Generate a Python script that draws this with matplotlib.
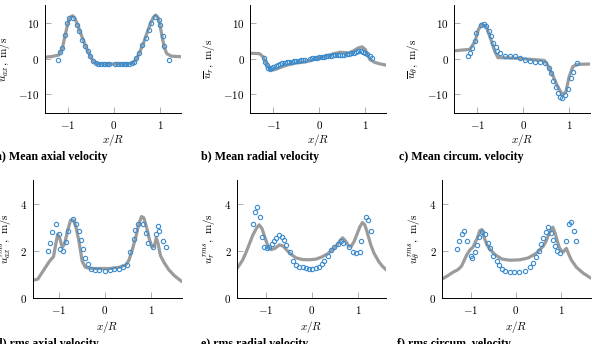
import matplotlib
matplotlib.use("Agg")
import matplotlib.pyplot as plt

plt.rcParams['mathtext.fontset'] = 'cm'
plt.rcParams['font.family'] = 'Liberation Serif'

# a) mean axial velocity
a_line_x = [-1.5, -1.35, -1.2, -1.13, -1.07, -1.0, -0.95, -0.9, -0.85, -0.8, -0.72, -0.65, -0.58, -0.5,
            -0.43, -0.35, -0.2, 0.0, 0.2, 0.35, 0.43, 0.5, 0.58, 0.65, 0.72, 0.8, 0.86, 0.91, 0.96, 1.0,
            1.05, 1.1, 1.15, 1.25, 1.5]
a_line_y = [0.4, 0.6, 1.0, 2.5, 6.0, 10.0, 11.6, 12.0, 11.3, 9.8, 7.0, 4.6, 2.4, 0.3,
            -1.0, -1.4, -1.5, -1.5, -1.5, -1.4, -1.0, 0.2, 2.4, 4.6, 7.2, 10.0, 11.6, 12.2, 11.5, 9.6,
            6.0, 3.0, 1.4, 0.7, 0.5]
a_exp_x = [-1.22, -1.17, -1.14, -1.06, -1.03, -0.97, -0.88, -0.81, -0.77, -0.7, -0.62, -0.57, -0.52,
           -0.46, -0.4, -0.34, -0.28, -0.22, -0.16, -0.1, 0.03, 0.09, 0.15, 0.21, 0.27, 0.33, 0.39,
           0.43, 0.49, 0.54, 0.61, 0.69, 0.76, 0.81, 0.9, 0.98, 1.01, 1.07, 1.1, 1.2]
a_exp_y = [-0.4, 1.9, 2.9, 6.6, 9.9, 11.3, 11.3, 9.4, 7.6, 5.2, 3.4, 2.0, 0.6,
           -0.6, -1.3, -1.5, -1.5, -1.5, -1.5, -1.5, -1.5, -1.5, -1.5, -1.5, -1.5, -1.5, -1.3,
           -1.0, 0.2, 1.5, 3.8, 5.7, 8.0, 9.9, 11.6, 10.8, 9.4, 6.2, 3.4, -0.4]

# b) mean radial velocity
b_line_x = [-1.5, -1.3, -1.22, -1.15, -1.08, -1.02, -0.95, -0.85, -0.7, -0.5, -0.3, -0.1, 0.1, 0.3,
            0.45, 0.55, 0.65, 0.75, 0.85, 0.93, 1.0, 1.05, 1.1, 1.2, 1.3, 1.45]
b_line_y = [1.5, 1.4, 0.5, -1.5, -2.8, -3.2, -3.0, -2.5, -1.8, -1.2, -0.9, -0.2, 0.6, 1.3,
            1.8, 1.7, 1.6, 2.2, 3.0, 3.3, 2.6, 1.2, -0.2, -1.0, -1.4, -1.8]
b_exp_x = [-1.2, -1.17, -1.14, -1.11, -1.08, -1.05, -1.0, -0.95, -0.9, -0.85, -0.8, -0.75, -0.7,
           -0.65, -0.6, -0.55, -0.5, -0.45, -0.4, -0.35, -0.3, -0.2, -0.15, -0.1, -0.05, 0.0, 0.05,
           0.1, 0.15, 0.2, 0.25, 0.3, 0.35, 0.4, 0.45, 0.5, 0.55, 0.6, 0.65, 0.7, 0.75, 0.8, 0.85,
           0.9, 0.95, 1.0, 1.05, 1.1, 1.15]
b_exp_y = [0.1, -0.8, -1.8, -2.6, -3.0, -2.6, -2.2, -2.0, -1.8, -1.5, -1.3, -1.2, -1.0,
           -0.9, -0.8, -0.7, -0.6, -0.6, -0.5, -0.5, -0.4, 0.0, 0.2, 0.3, 0.3, 0.4, 0.5,
           0.5, 0.6, 0.7, 0.8, 0.9, 0.9, 1.0, 1.0, 1.0, 1.1, 1.2, 1.4, 1.5, 1.7, 1.9, 2.0,
           2.0, 1.9, 1.7, 1.2, 0.8, 0.1]

# c) mean circumferential velocity
c_line_x = [-1.5, -1.16, -1.05, -0.98, -0.9, -0.8, -0.7, -0.62, -0.55, -0.12, 0.46, 0.53, 0.64,
            0.75, 0.86, 0.93, 1.0, 1.08, 1.19, 1.46]
c_line_y = [2.2, 2.6, 4.8, 8.0, 9.7, 8.8, 5.2, 2.0, 0.3, 0.1, -0.5, -1.8, -4.6,
            -7.8, -10.2, -9.2, -5.0, -2.2, -1.6, -1.5]
c_exp_x = [-1.21, -1.16, -1.11, -1.05, -1.02, -0.92, -0.86, -0.81, -0.75, -0.7, -0.65, -0.6, -0.56,
           -0.51, -0.4, -0.29, -0.18, -0.07, 0.03, 0.14, 0.25, 0.36, 0.47, 0.56, 0.6, 0.65, 0.71,
           0.76, 0.81, 0.85, 0.9, 0.98, 1.03, 1.09, 1.18]
c_exp_y = [0.8, 1.7, 2.9, 4.8, 7.3, 9.4, 9.7, 9.0, 7.8, 6.4, 4.5, 3.2, 2.2,
           1.5, 0.8, 0.6, 0.6, 0.1, -0.4, -0.6, -0.8, -1.0, -1.3, -2.7, -4.1, -6.2, -8.0,
           -9.5, -10.8, -11.1, -10.2, -8.6, -5.5, -3.6, -1.1]

# d) rms axial velocity
d_line_x = [-1.56, -1.45, -1.35, -1.2, -1.11, -1.06, -1.02, -0.97, -0.92, -0.87, -0.8, -0.74, -0.68,
            -0.63, -0.56, -0.49, -0.42, -0.3, -0.12, 0.1, 0.3, 0.45, 0.52, 0.6, 0.67, 0.73, 0.79,
            0.84, 0.9, 0.96, 1.02, 1.07, 1.11, 1.15, 1.2, 1.28, 1.38, 1.5, 1.66]
d_line_y = [0.75, 0.8, 1.1, 1.55, 1.75, 2.3, 2.7, 2.5, 2.15, 2.3, 2.9, 3.3, 3.3,
            3.05, 2.4, 1.55, 1.3, 1.25, 1.25, 1.25, 1.3, 1.4, 1.6, 2.1, 2.6, 3.1, 3.45,
            3.4, 3.0, 2.5, 2.15, 2.2, 2.55, 2.3, 1.8, 1.5, 1.2, 0.95, 0.7]
d_exp_x = [-1.23, -1.19, -1.14, -1.06, -1.0, -0.96, -0.91, -0.85, -0.79, -0.69, -0.62, -0.57, -0.52,
           -0.47, -0.42, -0.37, -0.3, -0.22, -0.12, 0.0, 0.1, 0.2, 0.3, 0.4, 0.48, 0.55, 0.62,
           0.66, 0.72, 0.82, 0.88, 0.93, 1.04, 1.1, 1.14, 1.17, 1.25, 1.31]
d_exp_y = [2.0, 2.35, 2.8, 3.15, 2.7, 2.07, 2.0, 2.38, 2.84, 3.35, 3.15, 2.84, 2.47,
           2.07, 1.7, 1.42, 1.25, 1.2, 1.2, 1.15, 1.2, 1.22, 1.25, 1.3, 1.4, 1.95, 2.5,
           2.9, 3.15, 3.15, 2.75, 2.35, 2.15, 2.7, 3.05, 2.85, 2.4, 2.15]

# e) rms radial velocity
e_line_x = [-1.62, -1.5, -1.42, -1.35, -1.28, -1.2, -1.14, -1.08, -1.02, -0.95, -0.88, -0.8, -0.7,
            -0.62, -0.55, -0.45, -0.34, -0.2, -0.05, 0.1, 0.23, 0.35, 0.45, 0.55, 0.62, 0.67, 0.74,
            0.8, 0.86, 0.92, 0.98, 1.04, 1.1, 1.15, 1.2, 1.28, 1.35, 1.45, 1.53, 1.61]
e_line_y = [1.25, 1.6, 1.95, 2.3, 2.65, 2.95, 3.1, 2.95, 2.6, 2.2, 2.05, 2.1, 2.25,
            2.2, 2.05, 1.85, 1.7, 1.63, 1.62, 1.65, 1.75, 1.88, 2.04, 2.25, 2.45, 2.55, 2.4,
            2.2, 2.2, 2.4, 2.7, 3.0, 3.2, 3.1, 2.8, 2.25, 1.9, 1.55, 1.35, 1.2]
e_exp_x = [-1.28, -1.23, -1.18, -1.13, -1.07, -1.03, -0.98, -0.92, -0.87, -0.82, -0.77, -0.71, -0.65,
           -0.6, -0.55, -0.48, -0.4, -0.35, -0.27, -0.2, -0.13, -0.06, 0.01, 0.09, 0.16, 0.22, 0.27,
           0.35, 0.42, 0.49, 0.56, 0.63, 0.68, 0.81, 0.89, 0.96, 1.04, 1.07, 1.18, 1.23, 1.29]
e_exp_y = [3.14, 3.65, 3.84, 3.42, 2.57, 2.18, 2.1, 2.18, 2.29, 2.4, 2.54, 2.65, 2.6,
           2.47, 2.26, 1.97, 1.55, 1.4, 1.33, 1.3, 1.26, 1.24, 1.24, 1.26, 1.33, 1.43, 1.55,
           1.76, 2.04, 2.18, 2.28, 2.4, 2.35, 2.16, 1.97, 1.9, 1.97, 2.4, 3.44, 3.3, 2.84]

# f) rms circumferential velocity
f_line_x = [-1.63, -1.5, -1.38, -1.28, -1.2, -1.14, -1.08, -1.01, -0.95, -0.9, -0.85, -0.8, -0.75,
            -0.7, -0.64, -0.57, -0.46, -0.31, -0.13, 0.09, 0.27, 0.45, 0.6, 0.66, 0.71, 0.76, 0.81,
            0.86, 0.91, 0.95, 1.0, 1.04, 1.08, 1.11, 1.16, 1.22, 1.33, 1.48, 1.64]
f_line_y = [0.8, 0.95, 1.1, 1.2, 1.35, 1.6, 1.85, 2.05, 2.15, 2.35, 2.55, 2.85, 2.9,
            2.55, 2.25, 2.05, 1.83, 1.65, 1.6, 1.62, 1.7, 1.9, 2.2, 2.4, 2.65, 2.85, 3.0,
            2.75, 2.4, 2.15, 2.0, 1.95, 2.05, 2.1, 1.85, 1.6, 1.3, 1.05, 0.85]
f_exp_x = [-1.3, -1.25, -1.18, -1.15, -1.08, -1.0, -0.96, -0.91, -0.86, -0.81, -0.75, -0.68, -0.62,
           -0.57, -0.5, -0.43, -0.38, -0.32, -0.25, -0.13, -0.04, 0.07, 0.2, 0.31, 0.37, 0.43, 0.5,
           0.55, 0.6, 0.65, 0.7, 0.77, 0.82, 0.86, 0.91, 0.96, 1.09, 1.16, 1.22, 1.27, 1.32]
f_exp_y = [2.07, 2.4, 2.72, 2.85, 2.4, 1.77, 1.7, 1.95, 2.25, 2.6, 2.8, 2.7, 2.35,
           2.1, 1.8, 1.55, 1.4, 1.25, 1.15, 1.1, 1.1, 1.1, 1.15, 1.3, 1.5, 1.75, 2.0,
           2.3, 2.55, 2.8, 3.0, 2.75, 2.45, 2.2, 2.0, 1.9, 2.4, 3.15, 3.2, 2.85, 2.4]

captions = ["a) Mean axial velocity", "b) Mean radial velocity", "c) Mean circum. velocity",
            "d) rms axial velocity", "e) rms radial velocity", "f) rms circum. velocity"]
ylabels = [r"$\overline{u}_{ax},\ \mathrm{m/s}$", r"$\overline{u}_{r},\ \mathrm{m/s}$",
           r"$\overline{u}_{\theta},\ \mathrm{m/s}$", r"$u_{ax}^{rms},\ \mathrm{m/s}$",
           r"$u_{r}^{rms},\ \mathrm{m/s}$", r"$u_{\theta}^{rms},\ \mathrm{m/s}$"]
lines = [(a_line_x, a_line_y), (b_line_x, b_line_y), (c_line_x, c_line_y),
         (d_line_x, d_line_y), (e_line_x, e_line_y), (f_line_x, f_line_y)]
exps = [(a_exp_x, a_exp_y), (b_exp_x, b_exp_y), (c_exp_x, c_exp_y),
        (d_exp_x, d_exp_y), (e_exp_x, e_exp_y), (f_exp_x, f_exp_y)]

W, H = 592, 344
fig = plt.figure(figsize=(W / 100, H / 100), dpi=100)

# axes boxes in pixels: left, top, width, height
boxes = [(45, 5, 136, 108), (250.3, 5, 136, 108), (454.3, 5, 136, 108),
         (32.7, 180, 149, 118), (237, 180, 149, 118), (442, 180, 149, 118)]
xlims = [(-1.5, 1.46), (-1.5, 1.46), (-1.5, 1.46), (-1.56, 1.66), (-1.62, 1.61), (-1.63, 1.65)]
cap_x = [-4, 201, 399, -4, 201, 397]

gray = '#9b9b9b'
blue = '#3a8ccf'

for i in range(6):
    l, t, w, h = boxes[i]
    ax = fig.add_axes([l / W, 1 - (t + h) / H, w / W, h / H])
    ax.plot(lines[i][0], lines[i][1], color=gray, lw=2.3, solid_capstyle='round', zorder=2)
    ax.plot(exps[i][0], exps[i][1], 'o', mfc='none', mec=blue, ms=3.1, mew=0.8, zorder=3)
    ax.set_xlim(*xlims[i])
    ax.set_xticks([-1, 0, 1], [r"$-1$", r"$0$", r"$1$"])
    if i < 3:
        ax.set_ylim(-15.2, 15)
        ax.set_yticks([-10, 0, 10], [r"$-10$", r"$0$", r"$10$"])
    else:
        ax.set_ylim(0, 5)
        ax.set_yticks([0, 2, 4], [r"$0$", r"$2$", r"$4$"])
    for s in ['top', 'right']:
        ax.spines[s].set_visible(False)
    for s in ['left', 'bottom']:
        ax.spines[s].set_linewidth(0.7)
    ax.tick_params(direction='in', length=4.5, width=0.6, color='#a0a0a0',
                   labelsize=8, pad=4)
    xl_off = 27 if i < 3 else 29
    ax.text(0.5, -xl_off / h, r"$x/R$", transform=ax.transAxes, ha='center', va='center', fontsize=8)
    yl_off = 41 if i < 3 else 28
    ax.text(-yl_off / w, 0.5, ylabels[i], transform=ax.transAxes, rotation=90,
            ha='center', va='center', fontsize=8)
    cap_y = 160 if i < 3 else 347
    fig.text(cap_x[i] / W, 1 - cap_y / H, captions[i], fontsize=8.6, fontweight='bold',
             family='Liberation Serif', va='baseline', ha='left')

fig.savefig('out.png', dpi=100)
